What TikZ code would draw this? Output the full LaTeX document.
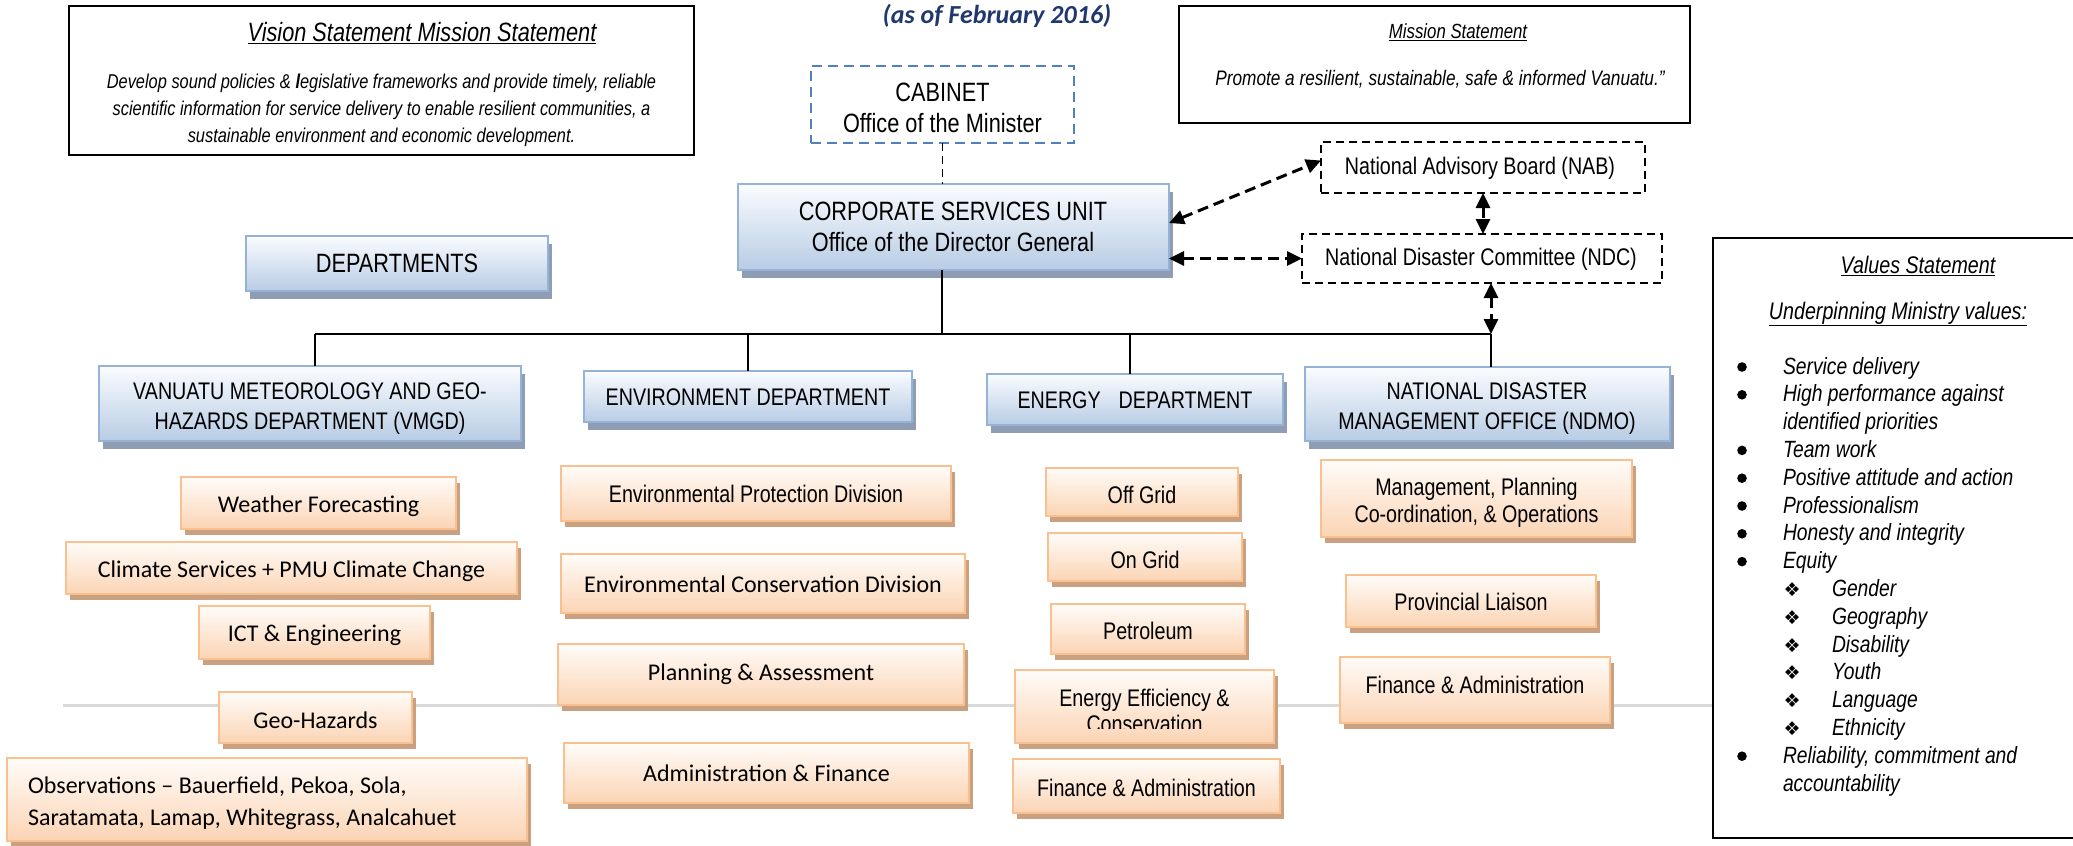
\documentclass[tikz,border=0pt]{standalone}
\usepackage{fontspec}
\setmainfont{Liberation Sans}
\newfontfamily\narrowfont[FakeStretch=0.82]{Liberation Sans}
\newfontfamily\califont{Carlito}
\newfontfamily\symfont{DejaVu Sans}
\usetikzlibrary{arrows.meta,fit,shadows}

\definecolor{navy}{RGB}{32,56,112}
\definecolor{blueline}{RGB}{149,179,215}
\definecolor{bluetop}{RGB}{250,252,255}
\definecolor{bluebot}{RGB}{184,204,228}
\definecolor{blueshade}{RGB}{142,157,180}
\definecolor{orline}{RGB}{250,192,143}
\definecolor{ortop}{RGB}{255,252,249}
\definecolor{orbot}{RGB}{251,212,180}
\definecolor{orshade}{RGB}{201,161,128}
\definecolor{cabline}{RGB}{79,129,189}
\definecolor{rulegray}{RGB}{217,217,217}

\tikzset{
  every node/.style={inner sep=0pt, outer sep=0pt},
  deptbox/.style={draw=blueline, line width=2.5pt, top color=bluetop, bottom color=bluebot,
    general shadow={shadow xshift=4pt, shadow yshift=-8pt, fill=blueshade}},
  unitbox/.style={draw=orline, line width=2.2pt, top color=ortop, bottom color=orbot,
    general shadow={shadow xshift=4pt, shadow yshift=-6pt, fill=orshade}},
  dashbox/.style={draw=black, line width=1.6pt, dash pattern=on 8pt off 5pt},
  cabbox/.style={draw=cabline, line width=2.5pt, dash pattern=on 10pt off 6pt},
  statebox/.style={draw=black, line width=2.4pt},
  bigtxt/.style={font=\narrowfont\fontsize{26.5}{30.5}\selectfont, align=center},
  nartxt/.style={font=\narrowfont\fontsize{24}{28}\selectfont, align=center},
  tallnartxt/.style={font=\narrowfont\fontsize{24}{30}\selectfont, align=center},
  caltxt/.style={font=\califont\fontsize{24}{28}\selectfont, align=center, yshift=-3pt},
  valtxt/.style={font=\narrowfont\itshape\fontsize{23.5}{28}\selectfont, anchor=base west},
  busline/.style={line width=2.6pt},
  dropline/.style={line width=1.8pt},
  biarrow/.style={line width=3pt, dash pattern=on 11pt off 6pt,
    arrows={Triangle[length=15pt,width=14pt]-Triangle[length=15pt,width=14pt]}},
}

% orange unit box with its label, shifted by #5 below the box centre
\newcommand\mkunit[6]{%
  \node[unitbox, fit={#2 #3}] (#1) {};
  \node[#4] (#1-t) at ([yshift=-#5pt]#1.center) {#6};
}

\begin{document}
\begin{tikzpicture}[x=1pt,y=-1pt]
\fill[white] (0,0) rectangle (2073,846);
\useasboundingbox (0,0) rectangle (2073,846);

% light rule running behind the unit boxes
\draw[rulegray, line width=3pt] (63,705) -- (1713,705);

% date line
\node[font=\califont\bfseries\itshape\fontsize{26}{30}\selectfont, text=navy] (date) at (997,16) {(as of February 2016)};

% vision statement
\node[statebox, fit={(69,6) (694,155)}] (vision) {};
\node[font=\narrowfont\itshape\fontsize{26.5}{30}\selectfont] (vision-h) at (422,33) {\underline{Vision Statement Mission Statement}};
\node[font=\narrowfont\itshape\fontsize{20}{27}\selectfont, align=center] (vision-b) at (381.5,110)
  {Develop sound policies \& \textbf{l}egislative frameworks and provide timely, reliable\\
   scientific information for service delivery to enable resilient communities, a\\
   sustainable environment and economic development.};

% mission statement
\node[statebox, fit={(1179,6) (1690,123)}] (mission) {};
\node[font=\narrowfont\itshape\fontsize{20.5}{24}\selectfont] (mission-h) at (1458,32) {\underline{Mission Statement}};
\node[font=\narrowfont\itshape\fontsize{21}{24}\selectfont] (mission-b) at (1440,79) {Promote a resilient, sustainable, safe \& informed Vanuatu.”};

% cabinet and corporate services
\node[cabbox, fit={(811,66) (1074,143)}] (cab) {};
\node[bigtxt] (cab-t) at (942.5,108) {CABINET\\Office of the Minister};
\node[deptbox, fit={(738,184) (1169,270)}] (csu) {};
\node[bigtxt] (csu-t) at (953,227) {CORPORATE SERVICES UNIT\\Office of the Director General};
\draw[line width=1.6pt, dash pattern=on 8pt off 5pt] (cab.south) -- (cab.south |- csu.north);

% advisory bodies
\node[dashbox, fit={(1321,142) (1645,193)}] (nab) {};
\node[nartxt] (nab-t) at (1480,168) {National Advisory Board (NAB)};
\node[dashbox, fit={(1302,234) (1662,283)}] (ndc) {};
\node[nartxt] (ndc-t) at (1481,259) {National Disaster Committee (NDC)};

% departments
\node[deptbox, fit={(246,236) (548,291)}] (depts) {};
\node[bigtxt] (depts-t) at (depts) {DEPARTMENTS};
\node[deptbox, fit={(99,366) (521,441)}] (vmgd) {};
\node[tallnartxt] (vmgd-t) at (310,409) {VANUATU METEOROLOGY AND GEO-\\HAZARDS DEPARTMENT (VMGD)};
\node[deptbox, fit={(584,371) (912,422)}] (env) {};
\node[nartxt] (env-t) at ([yshift=-1pt]env.center) {ENVIRONMENT DEPARTMENT};
\node[deptbox, fit={(987,374) (1283,425)}] (energy) {};
\node[nartxt] (energy-t) at ([yshift=-1pt]energy.center) {ENERGY\hspace{0.75em}DEPARTMENT};
\node[deptbox, fit={(1305,367) (1670,441)}] (ndmo) {};
\node[tallnartxt] (ndmo-t) at (1487,409) {NATIONAL DISASTER\\MANAGEMENT OFFICE (NDMO)};

% reporting lines
\coordinate (b0) at (942,334);
\coordinate (b1) at (315,334);
\coordinate (b2) at (748,334);
\coordinate (b3) at (1130,334);
\coordinate (b4) at (1491,334);
\draw[busline] (b1) -- (b4);
\draw[dropline] (csu.south -| b0) -- (b0);
\draw[dropline] (b1) -- (b1 |- vmgd.north);
\draw[dropline] (b2) -- (b2 |- env.north);
\draw[dropline] (b3) -- (b3 |- energy.north);
\draw[dropline] (b4) -- (b4 |- ndmo.north);

% two-way links
\draw[biarrow] ([yshift=4pt]csu.east) -- ([yshift=7pt]nab.west);
\draw[biarrow] (ndc.west -| csu.east) -- (ndc.west);
\draw[biarrow] (nab.south) -- (nab.south |- ndc.north);
\draw[biarrow] (ndc.south -| b4) -- (b4);

% VMGD units
\mkunit{wf}{(181,477)}{(456,529)}{caltxt}{0}{Weather Forecasting}
\mkunit{cs}{(66,542)}{(517,594)}{caltxt}{0}{Climate Services + PMU Climate Change}
\mkunit{ict}{(199,606)}{(430,659)}{caltxt}{0}{ICT \& Engineering}
\mkunit{geo}{(219,692)}{(412,743)}{caltxt}{0}{Geo-Hazards}
\node[unitbox, fit={(7,758) (527,841)}] (obs) {};
\node[font=\califont\fontsize{24}{32}\selectfont, align=left, anchor=west] (obs-t) at (28,803)
  {Observations – Bauerfield, Pekoa, Sola,\\Saratamata, Lamap, Whitegrass, Analcahuet};

% Environment units
\mkunit{epd}{(561,466)}{(951,521)}{nartxt}{0}{Environmental Protection Division}
\mkunit{ecd}{(561,554)}{(965,613)}{caltxt}{-2}{Environmental Conservation Division}
\node[unitbox, fit={(558,644) (964,705)}] (pa) {};
\node[caltxt] (pa-t) at (761,671) {Planning \& Assessment};
\node[unitbox, fit={(564,743) (969,803)}] (af) {};
\node[caltxt] (af-t) at (766.5,770) {Administration \& Finance};

% Energy units
\mkunit{offgrid}{(1046,468)}{(1238,516)}{nartxt}{3}{Off Grid}
\mkunit{ongrid}{(1048,533)}{(1242,581)}{nartxt}{3}{On Grid}
\mkunit{pet}{(1051,604)}{(1245,654)}{nartxt}{2}{Petroleum}
\node[unitbox, fit={(1015,670) (1274,743)}] (eec) {};
\begin{scope}
  \clip (1015,670) rectangle (1274,728);
  \node[nartxt, font=\narrowfont\fontsize{24}{26.5}\selectfont] (eec-t) at (1144.5,711) {Energy Efficiency \&\\Conservation};
\end{scope}
\mkunit{efa}{(1013,759)}{(1280,813)}{nartxt}{2}{Finance \& Administration}

% NDMO units
\node[unitbox, fit={(1321,460) (1632,537)}] (mgmt) {};
\node[font=\narrowfont\fontsize{24}{27}\selectfont, align=center] (mgmt-t) at (1476.5,503) {Management, Planning\\Co-ordination, \& Operations};
\mkunit{prov}{(1346,575)}{(1596,627)}{nartxt}{1}{Provincial Liaison}
\node[unitbox, fit={(1340,657) (1610,723)}] (nfa) {};
\node[nartxt] (nfa-t) at (1475,685) {Finance \& Administration};

% values statement
\draw[line width=2pt] (2073,238) -- (1713,238) -- (1713,838) -- (2073,838);
\node[font=\narrowfont\itshape\fontsize{24}{28}\selectfont] (val-h) at (1918,266) {\underline{Values Statement}};
\node[font=\narrowfont\itshape\fontsize{24}{28}\selectfont] (val-s) at (1898,314) {\underline{Underpinning Ministry values:}};
\foreach \i/\t in {0/Service delivery, 1/High performance against, 2/identified priorities,
                   3/Team work, 4/Positive attitude and action, 5/Professionalism,
                   6/Honesty and integrity, 7/Equity, 14/{Reliability, commitment and},
                   15/accountability}
  \node[valtxt] (val-\i) at (1783,374+27.8*\i) {\t};
\foreach \i in {0,1,3,4,5,6,7,14}
  \fill (1742,367+27.8*\i) circle[radius=4.8pt];
\foreach \i/\t in {8/Gender, 9/Geography, 10/Disability, 11/Youth, 12/Language, 13/Ethnicity} {
  \node[font=\symfont\fontsize{19}{22}\selectfont, anchor=base] (dia-\i) at (1792,374+27.8*\i) {❖};
  \node[valtxt] (val-\i) at (1832,374+27.8*\i) {\t};
}
\end{tikzpicture}
\end{document}
